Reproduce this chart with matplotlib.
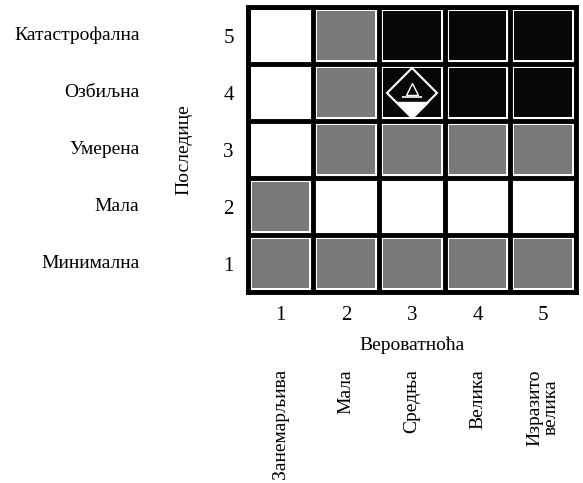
import numpy as np
import matplotlib.pyplot as plt
from matplotlib.colors import ListedColormap

plt.rcParams['font.family'] = ['Liberation Serif', 'DejaVu Serif']

# risk levels: 0 = low (white), 1 = medium (gray), 2 = high (black)
# rows from consequence 1 (bottom) to 5 (top), columns probability 1..5
levels = np.array([
    [1, 1, 1, 1, 1],
    [1, 0, 0, 0, 0],
    [0, 1, 1, 1, 1],
    [0, 1, 2, 2, 2],
    [0, 1, 2, 2, 2],
])
probability = [1, 2, 3, 4, 5]
consequence = [1, 2, 3, 4, 5]
prob_names = ['Занемарљива', 'Мала', 'Средња', 'Велика', 'Изразито\nвелика']
cons_names = ['Минимална', 'Мала', 'Умерена', 'Озбиљна', 'Катастрофална']
marker_cell = (3, 4)  # (probability, consequence)

fig = plt.figure(figsize=(5.83, 4.83), dpi=100)
ax = fig.add_axes([0.425, 0.395, 0.563, 0.59])

cmap = ListedColormap(['white', '#7a7a7a', '#080808'])
xe = np.arange(0.5, 6, 1)
ye = np.arange(0.5, 6, 1)
# thin white inner margin, then black grid on top
ax.pcolormesh(xe, ye, levels, cmap=cmap, vmin=-0.5, vmax=2.5,
              edgecolors='white', linewidth=5.5)
ax.vlines(xe, 0.5, 5.5, color='black', lw=3.5)
ax.hlines(ye, 0.5, 5.5, color='black', lw=3.5)

# hazard symbol: diamond, filled lower part, small mark inside
px, py = marker_cell
ax.plot(px, py - 0.16, marker=[(-1, 0), (1, 0), (0, -1)], ms=23,
        color='white', mec='white')
ax.plot(px, py, marker='D', ms=25, mfc='none', mec='white', mew=1.5)
ax.plot(px, py + 0.06, marker='^', ms=9, mfc='none', mec='white', mew=1)
ax.plot(px, py - 0.08, marker='_', ms=14, mec='white', mew=1.2)

ax.set_xlim(0.5, 5.5)
ax.set_ylim(0.5, 5.5)
ax.set_xticks(probability)
ax.set_yticks(consequence)
ax.tick_params(length=0, labelsize=15, pad=10)
for s in ax.spines.values():
    s.set_linewidth(3.5)

ax.set_xlabel('Вероватноћа', fontsize=14, labelpad=8)
ax.set_ylabel('Последице', fontsize=14)
ax.yaxis.set_label_coords(-0.17, 0.5)

for v, name in zip(consequence, cons_names):
    ax.text(-0.33, v, name, ha='right', va='center', fontsize=14,
            transform=ax.get_yaxis_transform())

for v, name in zip(probability, prob_names):
    ax.text(v, -0.85, name, ha='center', va='top', rotation=90,
            fontsize=14, linespacing=1.0)

fig.savefig('out.png', dpi=100)
